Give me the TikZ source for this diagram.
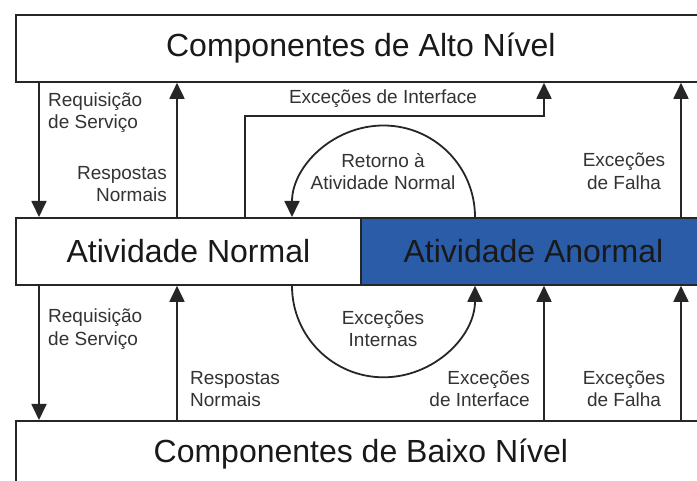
\documentclass[tikz,border=0pt]{standalone}
\usepackage{fontspec}
\setmainfont{Liberation Sans}
\usetikzlibrary{arrows.meta}
\definecolor{abn}{RGB}{42,92,168}
\begin{document}
\begin{tikzpicture}[x=1pt,y=-1pt,
  box/.style={draw=black!85, line width=1.8pt, minimum height=67pt, inner sep=0pt, anchor=north west,
    font=\fontsize{32}{36}\selectfont, text=black!90},
  arr/.style={line width=1.8pt, draw=black!85, -{Triangle[length=16pt,width=15pt]}},
  lbl/.style={font=\fontsize{19}{22.5}\selectfont, text=black!80, inner sep=0pt},
]
\useasboundingbox (0,0) rectangle (697,481);
\clip (0,0) rectangle (697,481);
\fill[white] (0,0) rectangle (697,481);
% boxes
\node[box, minimum width=690pt] (hi) at (15,14) {Componentes de Alto Nível};
\node[box, minimum width=345pt] (normal) at (15,217) {Atividade Normal};
\node[box, minimum width=345pt, fill=abn] (abnormal) at (360,217) {Atividade Anormal};
\node[box, minimum width=690pt] (lo) at (15,420) {Componentes de Baixo Nível};
% x positions
\coordinate (xa) at (39,0);
\coordinate (xb) at (177,0);
\coordinate (xc) at (245,0);
\coordinate (xd) at (544,0);
\coordinate (xe) at (475,0);
\coordinate (xf) at (292,0);
\coordinate (xg) at (681,0);
\coordinate (yi) at (0,116);
% upper connectors
\draw[arr] (hi.south -| xa) -- (normal.north -| xa);
\draw[arr] (normal.north -| xb) -- (hi.south -| xb);
\draw[arr] (normal.north -| xc) -- (xc |- yi) -- (xd |- yi) -- (hi.south -| xd);
\draw[arr] (abnormal.north -| xe) arc[start angle=0, end angle=-180, radius=91.5];
\draw[arr] (abnormal.north -| xg) -- (hi.south -| xg);
% lower connectors
\draw[arr] (normal.south -| xa) -- (lo.north -| xa);
\draw[arr] (lo.north -| xb) -- (normal.south -| xb);
\draw[arr] (normal.south -| xf) arc[start angle=180, end angle=0, radius=91.5];
\draw[arr] (lo.north -| xd) -- (abnormal.south -| xd);
\draw[arr] (lo.north -| xg) -- (abnormal.south -| xg);
% labels
\node[lbl, anchor=west, align=left] (l1) at (48,112.5) {Requisição\\de Serviço};
\node[lbl, anchor=east, align=right] (l2) at (167,184) {Respostas\\Normais};
\node[lbl] (l3) at (383,99) {Exceções de Interface};
\node[lbl, align=center] (l4) at (383,171.5) {Retorno à\\Atividade Normal};
\node[lbl, align=center] (l5) at (624,171.5) {Exceções\\de Falha};
\node[lbl, anchor=west, align=left] (l6) at (48,329) {Requisição\\de Serviço};
\node[lbl, anchor=west, align=left] (l7) at (190,389) {Respostas\\Normais};
\node[lbl, align=center] (l8) at (383,329) {Exceções\\Internas};
\node[lbl, anchor=east, align=right] (l9) at (530,389) {Exceções\\de Interface};
\node[lbl, align=center] (l10) at (624,389) {Exceções\\de Falha};
\end{tikzpicture}
\end{document}
